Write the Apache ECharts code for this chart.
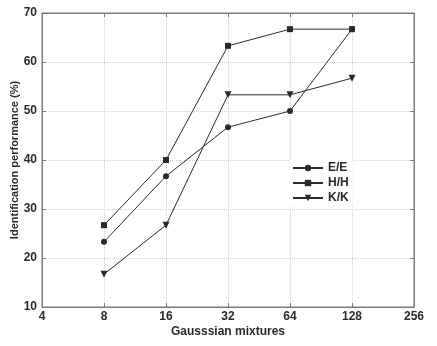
<!DOCTYPE html>
<html>
<head>
<meta charset="utf-8">
<script src="https://cdn.jsdelivr.net/npm/echarts@6/dist/echarts.min.js"></script>
<style>
  html, body { margin: 0; padding: 0; background: #fff; }
  #chart { width: 437px; height: 346px; }
</style>
</head>
<body>
<div id="chart"></div>
<script>
// Gaussian mixture counts (x, log2 axis)
var mixtures = [8, 16, 32, 64, 128];
// identification performance (%) per model pair
var eeValues = [23.3, 36.7, 46.7, 50.0, 66.7];
var hhValues = [26.7, 40.0, 63.3, 66.7, 66.7];
var kkValues = [16.7, 26.7, 53.3, 53.3, 56.7];

function pairs(vals) {
  return mixtures.map(function (m, i) { return [m, vals[i]]; });
}

var chart = echarts.init(document.getElementById('chart'));
var ink = '#2a2a2a';
var font = 'Liberation Sans, Arial, sans-serif';

function lineSeries(name, vals, symbol, size, rotate) {
  return {
    name: name,
    type: 'line',
    data: pairs(vals),
    symbol: symbol,
    symbolSize: size,
    symbolRotate: rotate || 0,
    showSymbol: true,
    lineStyle: { color: ink, width: 1 },
    itemStyle: { color: ink },
    animation: false
  };
}

chart.setOption({
  animation: false,
  grid: {
    left: 42, right: 23, top: 13, bottom: 39,
    outerBoundsMode: 'none',
    show: true, borderColor: '#7a7a7a', borderWidth: 1
  },
  legend: {
    orient: 'vertical',
    left: 290, top: 160,
    itemWidth: 30, itemHeight: 8, itemGap: 3,
    backgroundColor: '#fff',
    padding: [2, 4, 2, 2],
    textStyle: { color: ink, fontFamily: font, fontWeight: 'bold', fontSize: 12 },
    data: ['E/E', 'H/H', 'K/K']
  },
  xAxis: [{
    type: 'log', logBase: 2, min: 4, max: 256,
    name: 'Gausssian mixtures', nameLocation: 'middle', nameGap: 19,
    nameMoveOverlap: false,
    nameTextStyle: { color: ink, fontFamily: font, fontWeight: 'bold', fontSize: 12 },
    axisLine: { lineStyle: { color: '#7a7a7a' } },
    axisTick: { inside: true, length: 4, lineStyle: { color: '#7a7a7a' } },
    axisLabel: { color: ink, fontFamily: font, fontWeight: 'bold', fontSize: 12, margin: 4 },
    splitLine: { show: true, lineStyle: { color: '#d0d0d0', type: 'dotted' } }
  }, {
    type: 'log', logBase: 2, min: 4, max: 256, position: 'top',
    axisLine: { lineStyle: { color: '#7a7a7a' } },
    axisTick: { inside: true, length: 4, lineStyle: { color: '#7a7a7a' } },
    axisLabel: { show: false },
    splitLine: { show: false }
  }],
  yAxis: [{
    type: 'value', min: 10, max: 70, interval: 10,
    name: 'Identification performance (%)', nameLocation: 'middle', nameGap: 22,
    nameMoveOverlap: false,
    nameTextStyle: { color: ink, fontFamily: font, fontWeight: 'bold', fontSize: 11 },
    axisLine: { show: true, lineStyle: { color: '#7a7a7a' } },
    axisTick: { show: true, inside: true, length: 4, lineStyle: { color: '#7a7a7a' } },
    axisLabel: { color: ink, fontFamily: font, fontWeight: 'bold', fontSize: 12, margin: 5 },
    splitLine: { show: true, lineStyle: { color: '#d0d0d0', type: 'dotted' } }
  }, {
    type: 'value', min: 10, max: 70, interval: 10, position: 'right',
    axisLine: { show: true, lineStyle: { color: '#7a7a7a' } },
    axisTick: { show: true, inside: true, length: 4, lineStyle: { color: '#7a7a7a' } },
    axisLabel: { show: false },
    splitLine: { show: false }
  }],
  series: [
    lineSeries('E/E', eeValues, 'circle', 6),
    lineSeries('H/H', hhValues, 'rect', 6),
    lineSeries('K/K', kkValues, 'triangle', 7, 180)
  ]
});
</script>
</body>
</html>
